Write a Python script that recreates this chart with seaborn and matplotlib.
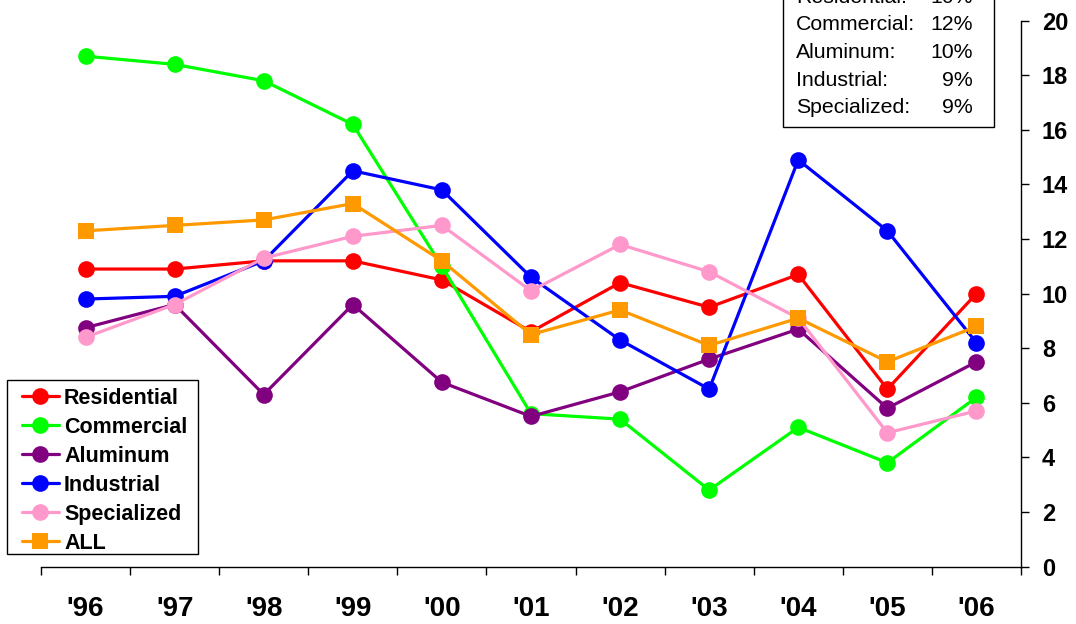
import matplotlib
matplotlib.use("Agg")
import matplotlib.pyplot as plt
from matplotlib.lines import Line2D
from matplotlib.patches import Rectangle
import numpy as np
import pandas as pd
import seaborn as sns

# ---- data -------------------------------------------------------------
years = ["'96", "'97", "'98", "'99", "'00", "'01", "'02", "'03", "'04", "'05", "'06"]

residential = [10.9, 10.9, 11.2, 11.2, 10.5, 8.6, 10.4, 9.5, 10.7, 6.5, 10.0]
commercial = [18.7, 18.4, 17.8, 16.2, 11.0, 5.6, 5.4, 2.8, 5.1, 3.8, 6.2]
aluminum = [8.75, 9.6, 6.3, 9.6, 6.75, 5.5, 6.4, 7.6, 8.7, 5.8, 7.5]
industrial = [9.8, 9.9, 11.2, 14.5, 13.8, 10.6, 8.3, 6.5, 14.9, 12.3, 8.2]
specialized = [8.4, 9.6, 11.3, 12.1, 12.5, 10.1, 11.8, 10.8, 9.1, 4.9, 5.7]
all_segments = [12.3, 12.5, 12.7, 13.3, 11.2, 8.5, 9.4, 8.1, 9.1, 7.5, 8.8]

series_names = ["Residential", "Commercial", "Aluminum", "Industrial", "Specialized", "ALL"]
series_values = [residential, commercial, aluminum, industrial, specialized, all_segments]
series_colors = ["#FF0000", "#00FF00", "#800080", "#0000FF", "#FF99CC", "#FF9900"]
series_markers = ["o", "o", "o", "o", "o", "s"]

box_labels = ["Residential:", "Commercial:", "Aluminum:", "Industrial:", "Specialized:"]
box_values = ["10%", "12%", "10%", "9%", "9%"]

y_ticks = [0, 2, 4, 6, 8, 10, 12, 14, 16, 18, 20]

# ---- long-form table for seaborn --------------------------------------
df = pd.concat(
    [
        pd.DataFrame({"pos": np.arange(len(years)), "value": vals, "segment": name})
        for name, vals in zip(series_names, series_values)
    ],
    ignore_index=True,
)

sns.set_theme(style="white")
plt.rcParams["font.family"] = ["Liberation Sans", "DejaVu Sans"]
plt.rcParams["text.color"] = "black"
plt.rcParams["xtick.color"] = "black"
plt.rcParams["ytick.color"] = "black"
plt.rcParams["axes.labelcolor"] = "black"

W, H = 1076, 624
fig = plt.figure(figsize=(W / 100, H / 100), dpi=100)
ax_left, ax_right, ax_top, ax_bottom = 41, 1021, 20.7, 566.5
ax = fig.add_axes([ax_left / W, 1 - ax_bottom / H,
                   (ax_right - ax_left) / W, (ax_bottom - ax_top) / H])

palette = dict(zip(series_names, series_colors))
markers = dict(zip(series_names, series_markers))

sns.lineplot(
    data=df, x="pos", y="value",
    hue="segment", style="segment",
    hue_order=series_names, style_order=series_names,
    palette=palette, markers=markers, dashes=False,
    markersize=12, markeredgewidth=0, linewidth=2.3,
    sort=False, legend=False, ax=ax,
)

# ---- axes styling ------------------------------------------------------
ax.set_xlim(-0.5, len(years) - 0.5)
ax.set_ylim(0, 20)
ax.set_xlabel("")
ax.set_ylabel("")

for side in ("left", "top"):
    ax.spines[side].set_visible(False)
for side in ("right", "bottom"):
    ax.spines[side].set_visible(True)
    ax.spines[side].set_color("black")
    ax.spines[side].set_linewidth(1.0)

ax.yaxis.tick_right()
ax.set_yticks(y_ticks)
ax.set_yticklabels([str(t) for t in y_ticks], fontsize=17, fontweight="bold")
ax.tick_params(axis="y", which="major", direction="out", length=6, width=1,
               color="black", pad=9, right=True, left=False, labelcolor="black")

ax.set_xticks(np.arange(len(years)))
ax.set_xticklabels(years, fontsize=20, fontweight="bold")
ax.set_xticks(np.arange(len(years) + 1) - 0.5, minor=True)
ax.tick_params(axis="x", which="major", length=0, pad=21, bottom=True, labelcolor="black")
ax.tick_params(axis="x", which="minor", direction="out", length=6, width=1,
               color="black", bottom=True)
ax.grid(False)

# ---- legend (frame drawn separately) -----------------------------------
leg_l, leg_r, leg_t, leg_b = 7, 198, 380, 554
fig.patches.append(Rectangle((leg_l / W, 1 - leg_b / H), (leg_r - leg_l) / W, (leg_b - leg_t) / H,
                             transform=fig.transFigure, facecolor="white",
                             edgecolor="black", linewidth=1.0, zorder=4))
handles = [
    Line2D([0], [0], color=c, marker=m, markersize=12, markeredgewidth=0, linewidth=2.3)
    for c, m in zip(series_colors, series_markers)
]
leg = fig.legend(
    handles, series_names,
    loc="upper left", bbox_to_anchor=(22 / W, 1 - 388 / H),
    borderaxespad=0, borderpad=0, frameon=False,
    prop={"size": 15.5, "weight": "bold"},
    handlelength=1.7, handletextpad=0.25, labelspacing=0.37,
)
leg.set_zorder(5)

# ---- growth summary box (upper right) ----------------------------------
box_l, box_r, box_b = 783, 994, 127
fig.patches.append(Rectangle((box_l / W, 1 - box_b / H), (box_r - box_l) / W, box_b / H + 0.05,
                             transform=fig.transFigure, facecolor="white",
                             edgecolor="black", linewidth=1.0, zorder=5))
row_y0, row_step = -2.6, 27.6
for i, (lab, val) in enumerate(zip(box_labels, box_values)):
    y = 1 - (row_y0 + i * row_step) / H
    fig.text(796 / W, y, lab, fontsize=15.3, ha="left", va="center", zorder=6)
    fig.text(973 / W, y, val, fontsize=15.3, ha="right", va="center", zorder=6)

fig.savefig("out.png", dpi=100, facecolor="white")
